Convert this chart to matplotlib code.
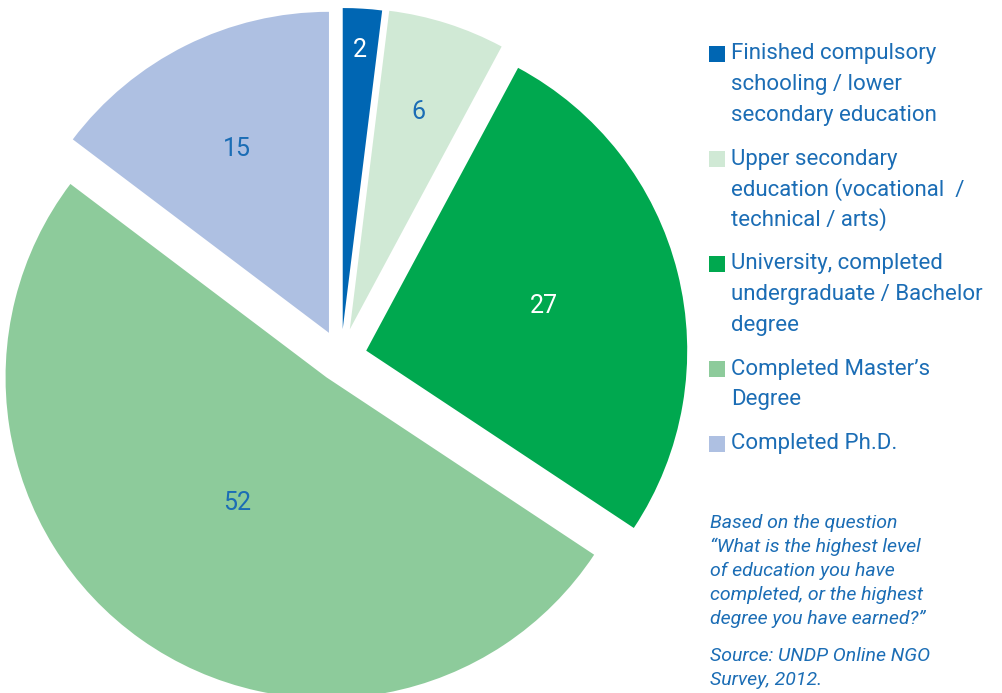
import matplotlib.pyplot as plt
from matplotlib.patches import Rectangle
import math

# dados do grafico
valores = [2, 6, 27, 52, 15]
categorias = [
    ['Finished compulsory', 'schooling / lower', 'secondary education'],
    ['Upper secondary', 'education (vocational  /', 'technical / arts)'],
    ['University, completed', 'undergraduate / Bachelor', 'degree'],
    ['Completed Master\u2019s', 'Degree'],
    ['Completed Ph.D.'],
]
nota = [
    'Based on the question',
    '\u201cWhat is the highest level',
    'of education you have',
    'completed, or the highest',
    'degree you have earned?\u201d',
]
fonte = ['Source: UNDP Online NGO', 'Survey, 2012.']

cores = ['#0066b3', '#d0e9d5', '#00a84f', '#8dcb9b', '#aec0e2']
cores_num = ['white', '#1b6db5', 'white', '#1b6db5', '#1b6db5']
dist_num = [0.87, 0.71, 0.57, 0.48, 0.64]
explode = [28, 29, 26, 25, 27]
azul = '#1b6db5'
letra = ['Roboto', 'DejaVu Sans']

fig = plt.figure(figsize=(10.03, 6.93), dpi=100)
ax = fig.add_axes([0, 0, 1, 1])

fatias, textos, nums = ax.pie(valores, colors=cores, explode=explode,
                              center=(341, 336), radius=321, startangle=90,
                              counterclock=False, autopct='%d',
                              pctdistance=0.6,
                              textprops={'fontsize': 18, 'family': letra})

# numero de cada fatia, na distancia certa do vertice
for i, (w, t) in enumerate(zip(fatias, nums)):
    t.set_text(str(valores[i]))
    ang = math.radians((w.theta1 + w.theta2) / 2)
    cx, cy = w.center
    d = dist_num[i]
    t.set_position((cx + d * w.r * math.cos(ang), cy + d * w.r * math.sin(ang)))
    t.set_color(cores_num[i])

ax.set_xlim(0, 1003)
ax.set_ylim(0, 693)
ax.set_aspect('auto')
ax.axis('off')

# legenda
y = 693 - 54
for cor, linhas in zip(cores, categorias):
    ax.add_patch(Rectangle((709, y - 8), 16, 16, color=cor, lw=0))
    for k, lin in enumerate(linhas):
        ax.text(731, y - k * 30.5, lin, fontsize=16, color=azul,
                family=letra, va='center', ha='left')
    y -= len(linhas) * 30.5 + 13.5

# nota de rodape
y = 693 - 523
for lin in nota:
    ax.text(710, y, lin, fontsize=14, color=azul, style='italic',
            family=letra, va='center')
    y -= 24
y -= 13
for lin in fonte:
    ax.text(710, y, lin, fontsize=14, color=azul, style='italic',
            family=letra, va='center')
    y -= 24

plt.savefig('out.png', dpi=100)
